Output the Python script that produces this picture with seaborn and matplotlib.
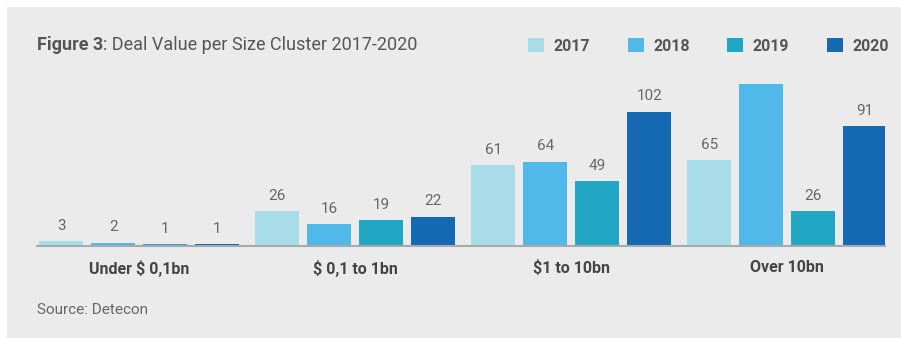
import matplotlib
matplotlib.use("Agg")
import matplotlib.pyplot as plt
import seaborn as sns
import pandas as pd
from matplotlib.patches import Rectangle

# Deal value per size cluster (USD bn), one list per year
clusters = ["Under $ 0,1bn", "$ 0,1 to 1bn", "$1 to 10bn", "Over 10bn"]
years = ["2017", "2018", "2019", "2020"]
v2017 = [3, 26, 61, 65]
v2018 = [2, 16, 64, 123]
v2019 = [1, 19, 49, 26]
v2020 = [1, 22, 102, 91]
# which bars carry a value label
show2017 = [True, True, True, True]
show2018 = [True, True, True, False]
show2019 = [True, True, True, True]
show2020 = [True, True, True, True]

colors = ["#a8dce8", "#50b9ea", "#21a6c3", "#1469b2"]
BG = "#ebebeb"
TXT = "#555555"

sns.set_theme(style="white")
plt.rcParams["font.family"] = ["Roboto", "DejaVu Sans"]
plt.rcParams["text.parse_math"] = False

values = [v2017, v2018, v2019, v2020]
shows = [show2017, show2018, show2019, show2020]
rows = []
for y, vals in zip(years, values):
    for c, v in zip(clusters, vals):
        rows.append({"cluster": c, "year": y, "value": v})
df = pd.DataFrame(rows)

W, H = 901, 338
fig = plt.figure(figsize=(W / 100, H / 100), dpi=100, facecolor="white")
fig.patches.append(Rectangle((7 / W, 0), 1 - 7 / W, 1 - 7 / H,
                             transform=fig.transFigure, facecolor=BG,
                             edgecolor="none", zorder=-10))

ax = fig.add_axes([37 / W, (H - 246) / H, 848 / W, 186 / H])
ax.set_facecolor("none")

sns.barplot(data=df, x="cluster", y="value", hue="year", order=clusters,
            hue_order=years, palette=colors, saturation=1, width=0.963,
            gap=0.154, ax=ax, errorbar=None, linewidth=0, edgecolor="none",
            zorder=3)

ax.set_xlim(-0.474, 3.453)
ax.set_ylim(-0.5, 141.5)
ax.set_xlabel("")
ax.set_ylabel("")
ax.set_yticks([])
for s in ["top", "right", "left"]:
    ax.spines[s].set_visible(False)
ax.spines["bottom"].set_color("#a9a9a9")
ax.spines["bottom"].set_linewidth(1.5)
ax.spines["bottom"].set_zorder(1)
ax.tick_params(axis="x", length=0, pad=10, labelsize=11.5, labelcolor="#444444")
for t in ax.get_xticklabels():
    t.set_fontweight("bold")

for cont, vals, show in zip(ax.containers, values, shows):
    labels = [str(v) if s else "" for v, s in zip(vals, show)]
    ax.bar_label(cont, labels=labels, padding=6, fontsize=11,
                 color="#666666")

handles, labels = ax.get_legend_handles_labels()
for h in handles:
    h.set_linewidth(0)
ax.legend(handles, labels, ncol=4, loc="center left",
          bbox_to_anchor=(528 / W, (H - 46) / H), bbox_transform=fig.transFigure,
          frameon=False, prop={"weight": "bold", "size": 11.5},
          labelcolor=TXT, handlelength=1.0, handleheight=1.0,
          handletextpad=0.6, columnspacing=2.35, borderpad=0, borderaxespad=0)

t1 = fig.text(37 / W, (H - 50) / H, "Figure 3", fontsize=13,
              fontweight="bold", color=TXT, va="baseline", ha="left")
ax.annotate(": Deal Value per Size Cluster 2017-2020", xy=(1, 0),
            xycoords=t1, va="bottom", ha="left", fontsize=13, color=TXT,
            annotation_clip=False)

fig.text(37 / W, (H - 314) / H, "Source: Detecon", fontsize=11,
         color="#666666", va="baseline", ha="left")

fig.savefig("out.png", dpi=100, facecolor="white")
